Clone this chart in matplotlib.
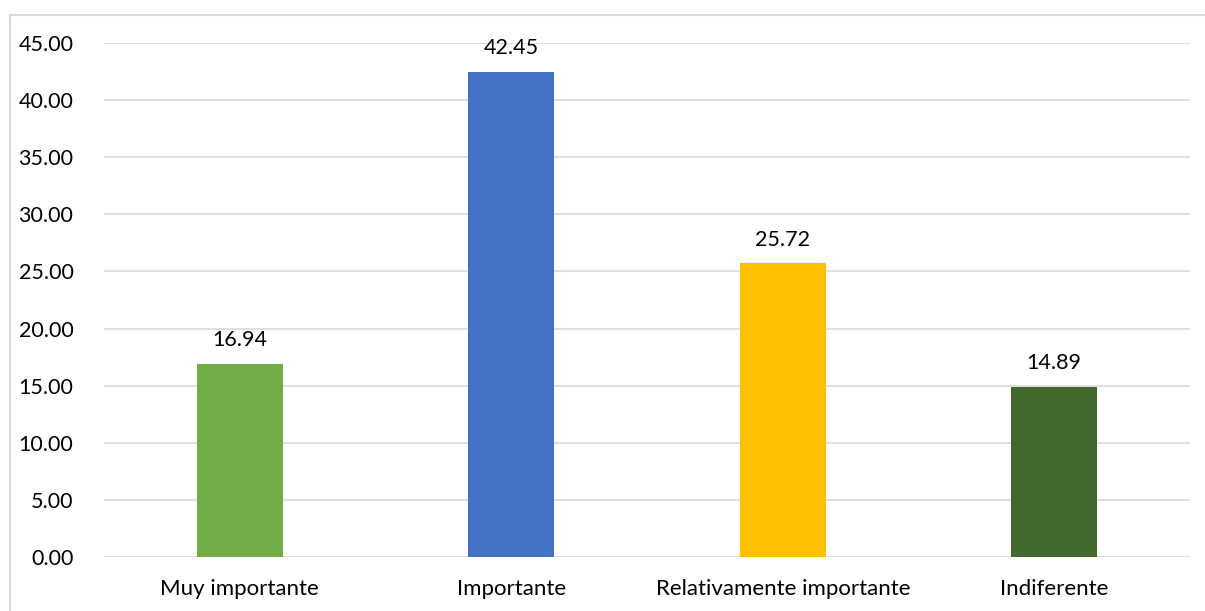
import matplotlib
matplotlib.use('Agg')
import matplotlib.pyplot as plt
from matplotlib.patches import Rectangle

categories = ['Muy importante', 'Importante', 'Relativamente importante', 'Indiferente']
values = [16.94, 42.45, 25.72, 14.89]
colors = ['#70AD47', '#4472C4', '#FFC000', '#43682B']
yticks = [0, 5, 10, 15, 20, 25, 30, 35, 40, 45]

plt.rcParams['font.family'] = ['Lato', 'DejaVu Sans']

W, H = 1205, 611
fig = plt.figure(figsize=(W / 100, H / 100), dpi=100)
ax = fig.add_axes([104 / W, 1 - 557 / H, (1190 - 104) / W, (557 - 43) / H])

x = range(len(categories))
ax.bar(x, values, width=0.317, color=colors, zorder=3)
for i, v in enumerate(values):
    ax.text(i, v + 1.2, '%.2f' % v, ha='center', va='bottom', fontsize=15.5, color='#000000')

ax.set_xlim(-0.5, len(categories) - 0.5)
ax.set_ylim(0, 45)
ax.set_yticks(yticks)
ax.set_yticklabels(['%.2f' % t for t in yticks], fontsize=15.5)
ax.set_xticks(list(x))
ax.set_xticklabels(categories, fontsize=16)
ax.tick_params(axis='both', length=0, colors='#000000')
ax.tick_params(axis='y', pad=22)
ax.tick_params(axis='x', pad=16)
ax.grid(axis='y', color='#D9D9D9', linewidth=1.2, zorder=0)
for s in ax.spines.values():
    s.set_visible(False)

# chart border (cut off at right/bottom in the reference)
fig.patches.append(Rectangle((10 / W, -0.1), 1.5, 1 - 15 / H + 0.1,
                             transform=fig.transFigure, fill=False,
                             edgecolor='#D9D9D9', linewidth=1.5))

fig.savefig('out.png', dpi=100)
